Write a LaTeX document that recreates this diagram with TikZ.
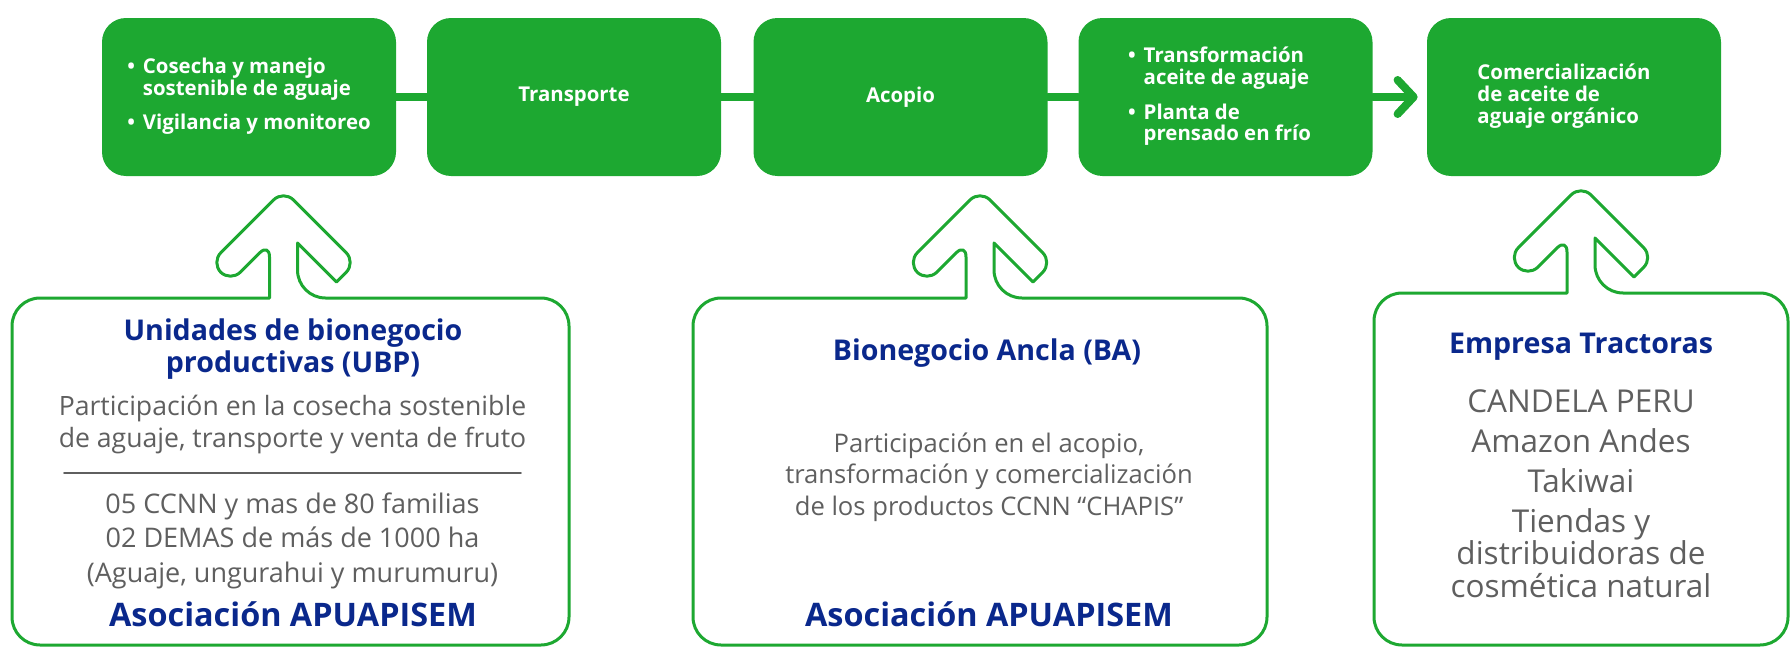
\documentclass[tikz,border=0pt]{standalone}
\usepackage{fontspec}
\setmainfont{Open Sans}
\usetikzlibrary{arrows.meta}

\definecolor{leafgreen}{RGB}{29,168,49}
\definecolor{navyblue}{RGB}{10,40,140}
\definecolor{textgray}{RGB}{95,95,95}

\tikzset{
  stage/.style={fill=leafgreen, rounded corners=12pt, minimum width=147pt, minimum height=79pt,
    inner sep=0pt, text=white, font=\bfseries\fontsize{10.2}{10.5}\selectfont},
  link/.style={draw=leafgreen, line width=4pt},
  frame/.style={draw=leafgreen, line width=1.5pt},
  heading/.style={text=navyblue, font=\bfseries\fontsize{14.3}{16}\selectfont, align=center, inner sep=0pt, anchor=base},
  asoc/.style={text=navyblue, font=\bfseries\fontsize{16.2}{18}\selectfont, inner sep=0pt, anchor=base},
  info/.style={text=textgray, align=center, inner sep=0pt, anchor=base},
}

\begin{document}
\begin{tikzpicture}[x=0.5pt, y=-0.5pt, line cap=round, line join=round]
  \useasboundingbox (0,0) rectangle (1790,648);
  % value chain
  \node[stage] (cosecha) at (249,97) {\begin{tabular}{@{}l@{\hspace{4pt}}l@{}}
      \textbullet & Cosecha y manejo\\ & sostenible de aguaje\\[6.5pt]
      \textbullet & Vigilancia y monitoreo\end{tabular}};
  \node[stage] (transporte) at (574,97) {Transporte};
  \node[stage] (acopio) at (900.5,97) {Acopio};
  \node[stage] (prensado) at (1225.5,97) {\begin{tabular}{@{}l@{\hspace{4pt}}l@{\hspace{6pt}}}
      \textbullet & Transformación\\ & aceite de aguaje\\[6.5pt]
      \textbullet & Planta de\\ & prensado en frío\end{tabular}};
  \node[stage] (comercio) at (1574,97) {\begin{tabular}{@{}l@{\hspace{10pt}}}
      Comercialización\\ de aceite de\\ aguaje orgánico\end{tabular}};
  \draw[link] (cosecha) -- (transporte);
  \draw[link] (transporte) -- (acopio);
  \draw[link] (acopio) -- (prensado);
  \draw[link, shorten >=4.5pt, -{Straight Barb[length=8pt, width=17pt, round]}] (prensado) -- (comercio);

  % actor boxes with up arrows
  \foreach \lx/\rx/\ty/\cx in {12/569/298/283.5, 693/1267/298/980, 1374/1788/293/1581}
    \draw[frame] (\cx-14,\ty) [rounded corners=14pt] -- (\lx,\ty) -- (\lx,645) -- (\rx,645)
      -- (\rx,\ty) -- (\cx+14,\ty) [sharp corners] -- (\cx+14,\ty-55) -- (\cx+53,\ty-16)
      [rounded corners=7pt] -- (\cx+72.5,\ty-35.5) -- (\cx,\ty-108) -- (\cx-72.5,\ty-35.5)
      -- (\cx-53,\ty-16) -- (\cx-14,\ty-55) [sharp corners] -- cycle;

  % UBP
  \node[heading] (ubptitle) at (293,372) {Unidades de bionegocio\\productivas (UBP)};
  \node[info, font=\fontsize{13.3}{16}\selectfont] (ubptext) at (292.5,447)
    {Participación en la cosecha sostenible\\de aguaje, transporte y venta de fruto};
  \draw[textgray, line width=0.8pt] (64,473) -- (521,473);
  \node[info, font=\fontsize{13.5}{17.25}\selectfont] (ubpdata) at (292.5,582)
    {05 CCNN y mas de 80 familias\\02 DEMAS de más de 1000 ha\\(Aguaje, ungurahui y murumuru)};
  \node[asoc] (ubpasoc) at (293,626) {Asociación APUAPISEM};

  % BA
  \node[heading] (batitle) at (987,360) {Bionegocio Ancla (BA)};
  \node[info, font=\fontsize{12.8}{15.75}\selectfont] (batext) at (989,515)
    {Participación en el acopio,\\transformación y comercialización\\de los productos CCNN “CHAPIS”};
  \node[asoc] (baasoc) at (989,626) {Asociación APUAPISEM};

  % empresas
  \node[heading] (ettitle) at (1581,353) {Empresa Tractoras};
  \node[info, font=\fontsize{15.75}{16.25}\selectfont] (etlist) at (1581,597)
    {CANDELA PERU\\[3.75pt]Amazon Andes\\[3.75pt]Takiwai\\[3.75pt]Tiendas y\\distribuidoras de\\cosmética natural};
\end{tikzpicture}
\end{document}
